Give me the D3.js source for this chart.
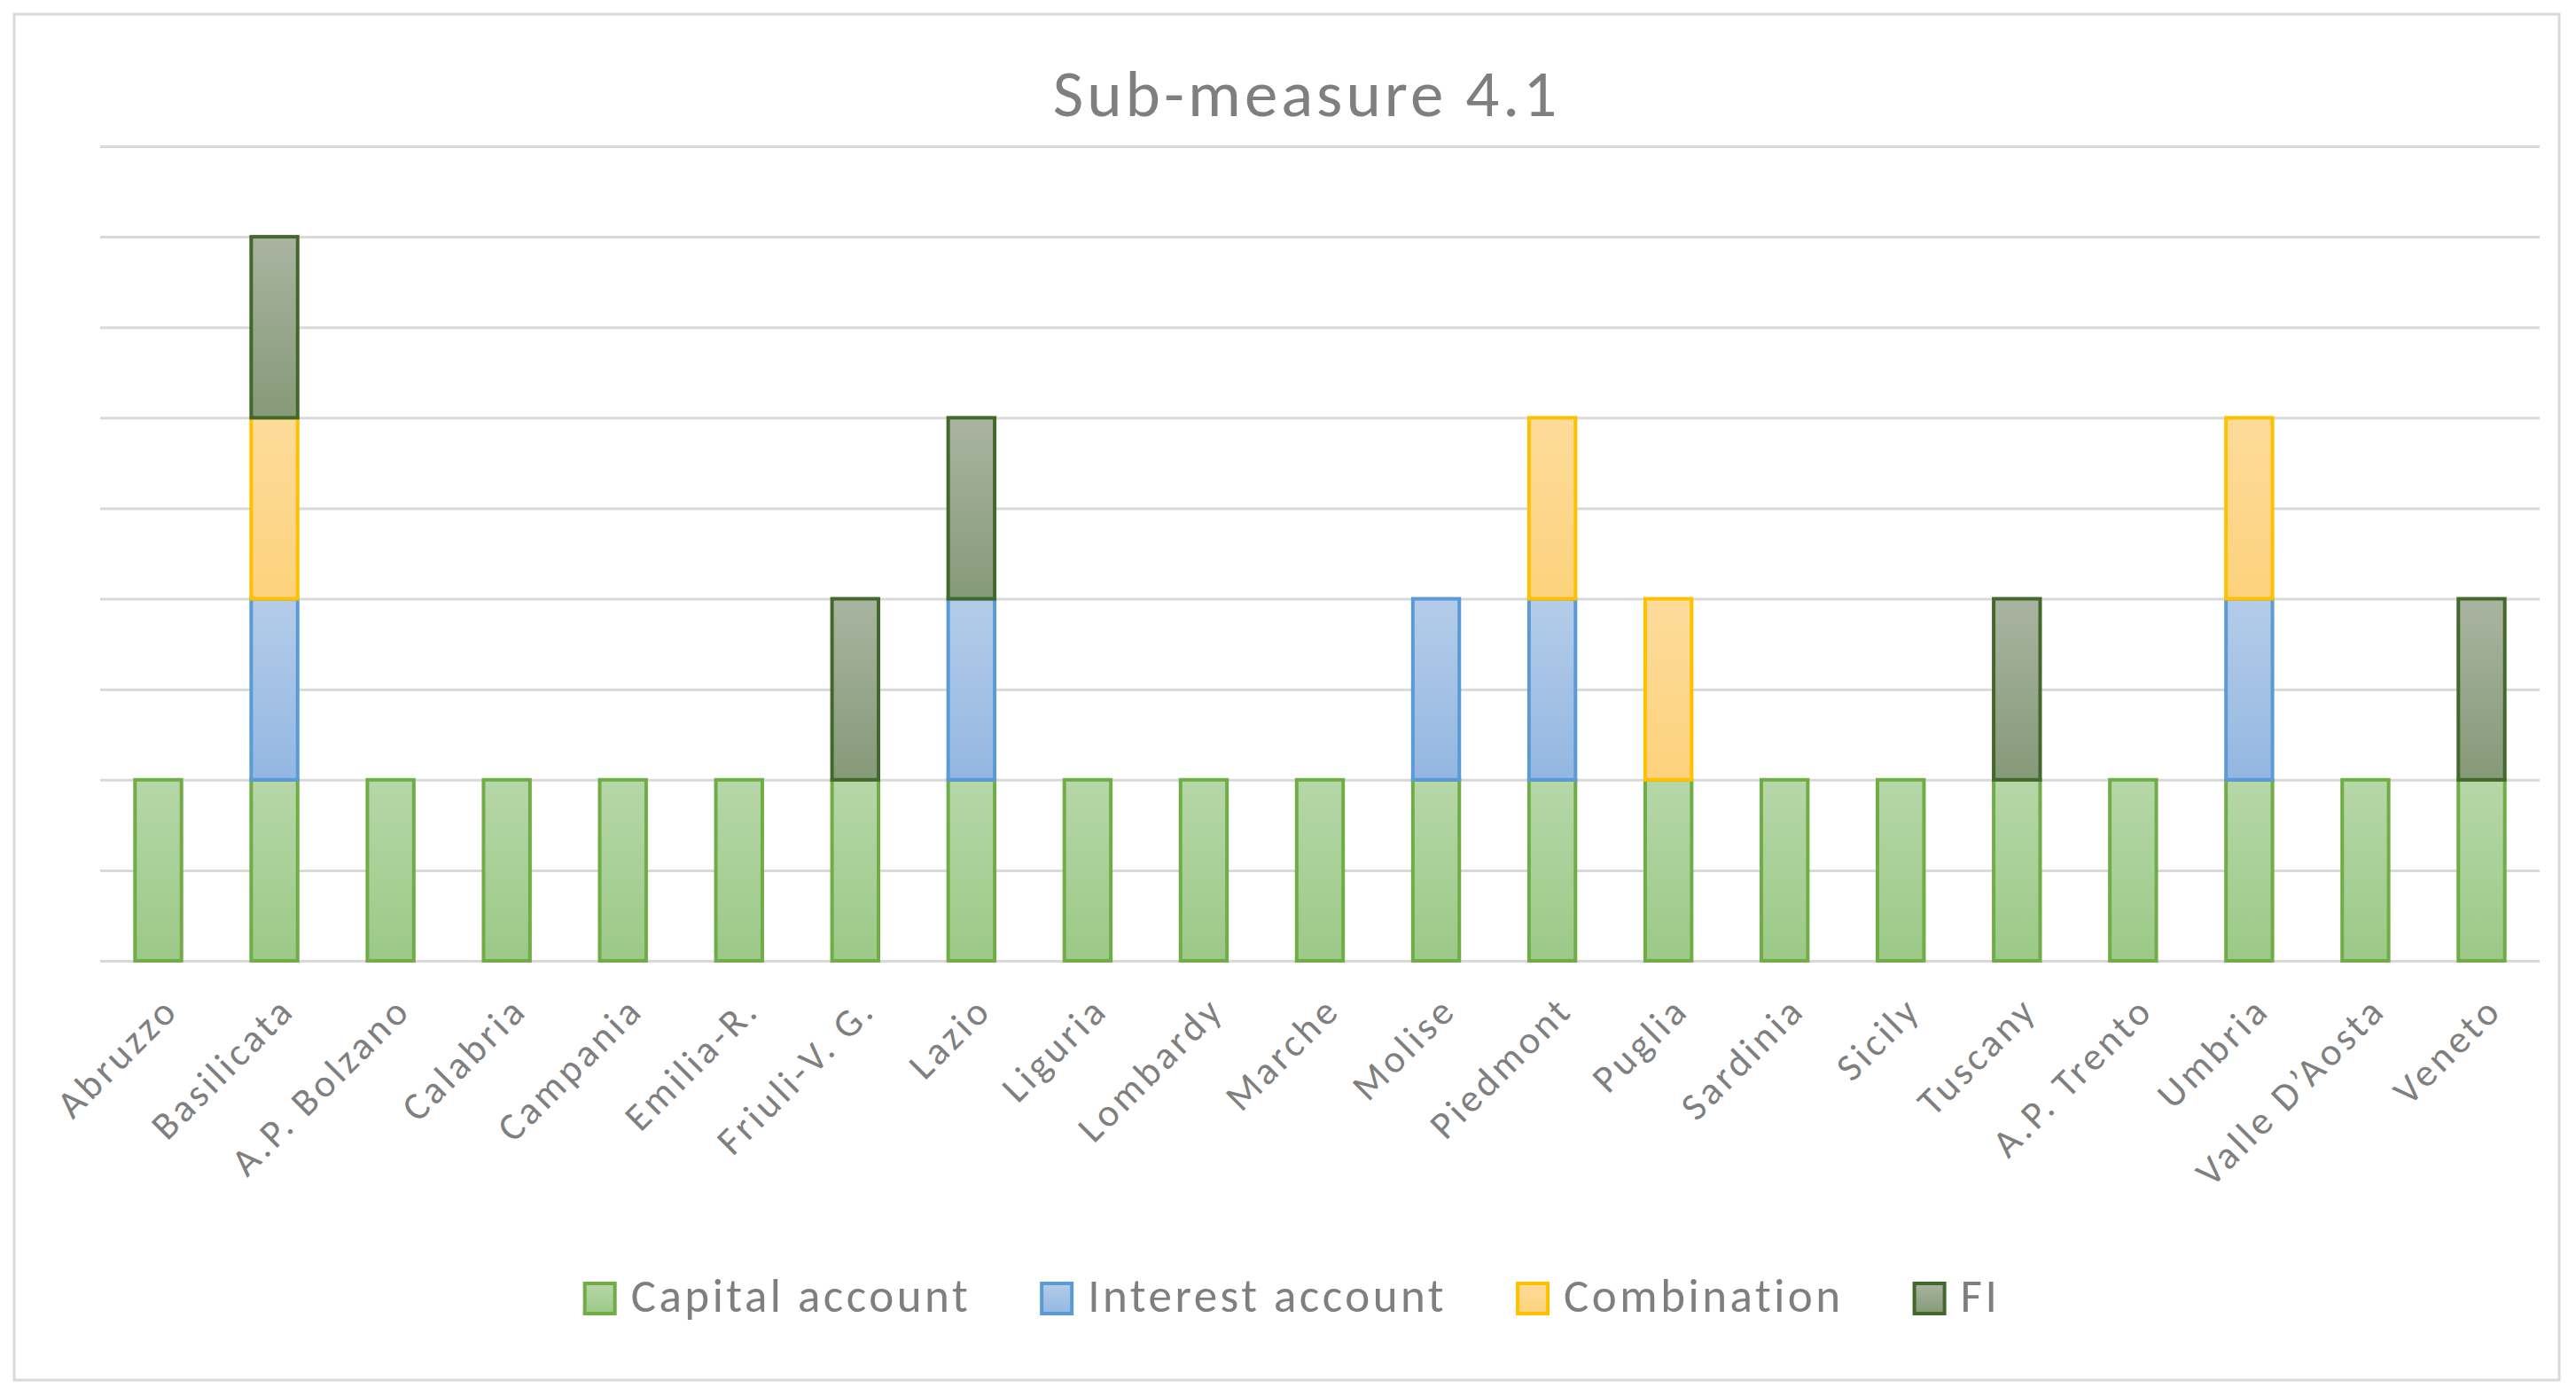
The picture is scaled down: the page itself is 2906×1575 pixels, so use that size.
<!DOCTYPE html>
<html>
<head>
<meta charset="utf-8">
<script src="https://cdn.jsdelivr.net/npm/d3@7"></script>
<style>
  body { margin: 0; background: #fff; }
  text { font-family: Carlito, Calibri, Lato, sans-serif; fill: #7f7f7f; }
</style>
</head>
<body>
<div id="chart-area"></div>
<script>
// data
var regions = ["Abruzzo", "Basilicata", "A.P. Bolzano", "Calabria", "Campania", "Emilia-R.",
	"Friuli-V. G.", "Lazio", "Liguria", "Lombardy", "Marche", "Molise", "Piedmont", "Puglia",
	"Sardinia", "Sicily", "Tuscany", "A.P. Trento", "Umbria", "Valle D\u2019Aosta", "Veneto"]
var capitalAccount  = [1,1,1,1,1,1,1,1,1,1,1,1,1,1,1,1,1,1,1,1,1]
var interestAccount = [0,1,0,0,0,0,0,1,0,0,0,1,1,0,0,0,0,0,1,0,0]
var combination     = [0,1,0,0,0,0,0,0,0,0,0,0,1,1,0,0,0,0,1,0,0]
var fi              = [0,1,0,0,0,0,1,1,0,0,0,0,0,0,0,0,1,0,0,0,1]
var seriesNames = ["Capital account", "Interest account", "Combination", "FI"]
var yTicks = [0, 0.5, 1, 1.5, 2, 2.5, 3, 3.5, 4, 4.5]

var W = 2906, H = 1575
var margin = { left: 113, right: 41, top: 165, bottom: 491 }
var width = W - margin.left - margin.right,
	height = H - margin.top - margin.bottom

var svg = d3.select("#chart-area")
	.append("svg")
		.attr("width", W)
		.attr("height", H)

// series styles: stroke + gradient top/bottom
var styles = [
	{ stroke: "#70ad47", top: "#b6d7a8", bottom: "#9bc987" },
	{ stroke: "#5b9bd5", top: "#b4cce9", bottom: "#93b7e1" },
	{ stroke: "#ffc000", top: "#fddb9a", bottom: "#fcd27d" },
	{ stroke: "#43682b", top: "#a9b4a1", bottom: "#859a78" }
]

var defs = svg.append("defs")
styles.forEach((s, i) => {
	var grad = defs.append("linearGradient")
		.attr("id", "grad" + i)
		.attr("x1", 0).attr("y1", 0).attr("x2", 0).attr("y2", 1)
	grad.append("stop").attr("offset", "0%").attr("stop-color", s.top)
	grad.append("stop").attr("offset", "100%").attr("stop-color", s.bottom)
})

// chart border
svg.append("rect")
	.attr("x", 16).attr("y", 16)
	.attr("width", 2871).attr("height", 1541)
	.attr("fill", "none")
	.attr("stroke", "#d9d9d9")
	.attr("stroke-width", 3)

// title
svg.append("text")
	.attr("x", 1474)
	.attr("y", 131)
	.attr("text-anchor", "middle")
	.attr("font-size", "75px")
	.attr("letter-spacing", "4px")
	.text("Sub-measure 4.1")

var g = svg.append("g")
	.attr("transform", "translate(" + margin.left + ", " + margin.top + ")")

// scales
var x = d3.scaleBand()
	.domain(regions)
	.range([0, width])
	.paddingInner(0.6)
	.paddingOuter(0.3)
var y = d3.scaleLinear()
	.domain([0, 4.5])
	.range([height, 0])

// gridlines
g.append("g")
	.attr("class", "grid")
	.call(d3.axisLeft(y).tickValues(yTicks).tickSize(-width).tickFormat(""))
	.call(gg => gg.select(".domain").remove())
	.selectAll("line")
		.attr("stroke", "#d9d9d9")
		.attr("stroke-width", 3)

// stacked bars
var table = regions.map((r, i) => ({
	region: r,
	"Capital account": capitalAccount[i],
	"Interest account": interestAccount[i],
	"Combination": combination[i],
	"FI": fi[i]
}))
var stacked = d3.stack().keys(seriesNames)(table)

stacked.forEach((layer, k) => {
	g.append("g")
		.selectAll("rect")
		.data(layer.filter(d => d[1] - d[0] > 0))
		.enter()
		.append("rect")
			.attr("x", d => x(d.data.region))
			.attr("y", d => y(d[1]))
			.attr("width", x.bandwidth())
			.attr("height", d => y(d[0]) - y(d[1]))
			.attr("fill", "url(#grad" + k + ")")
			.attr("stroke", styles[k].stroke)
			.attr("stroke-width", 4)
})

// x axis labels
var xAxis = g.append("g")
	.attr("transform", "translate(0," + height + ")")
	.call(d3.axisBottom(x).tickSize(0).tickPadding(0))
xAxis.select(".domain").remove()
xAxis.selectAll("text")
	.attr("font-size", "44px")
	.attr("letter-spacing", "4px")
	.attr("fill", "#7f7f7f")
	.attr("text-anchor", "end")
	.attr("dy", "0")
	.attr("transform", "translate(25, 58) rotate(-45)")

// legend
var legend = svg.append("g")
var lx = 0
seriesNames.forEach((name, i) => {
	var item = legend.append("g")
	item.append("rect")
		.attr("x", 2).attr("y", -17)
		.attr("width", 34).attr("height", 34)
		.attr("fill", "url(#grad" + i + ")")
		.attr("stroke", styles[i].stroke)
		.attr("stroke-width", 4)
	var t = item.append("text")
		.attr("x", 54)
		.attr("y", 15)
		.attr("font-size", "53px")
		.attr("letter-spacing", "3.5px")
		.text(name)
	item.attr("transform", "translate(" + lx + ",0)")
	lx += 54 + t.node().getComputedTextLength() + 78
})
var legendWidth = lx - 78
legend.attr("transform", "translate(" + (1457 - legendWidth / 2) + ",1465)")
</script>
</body>
</html>
